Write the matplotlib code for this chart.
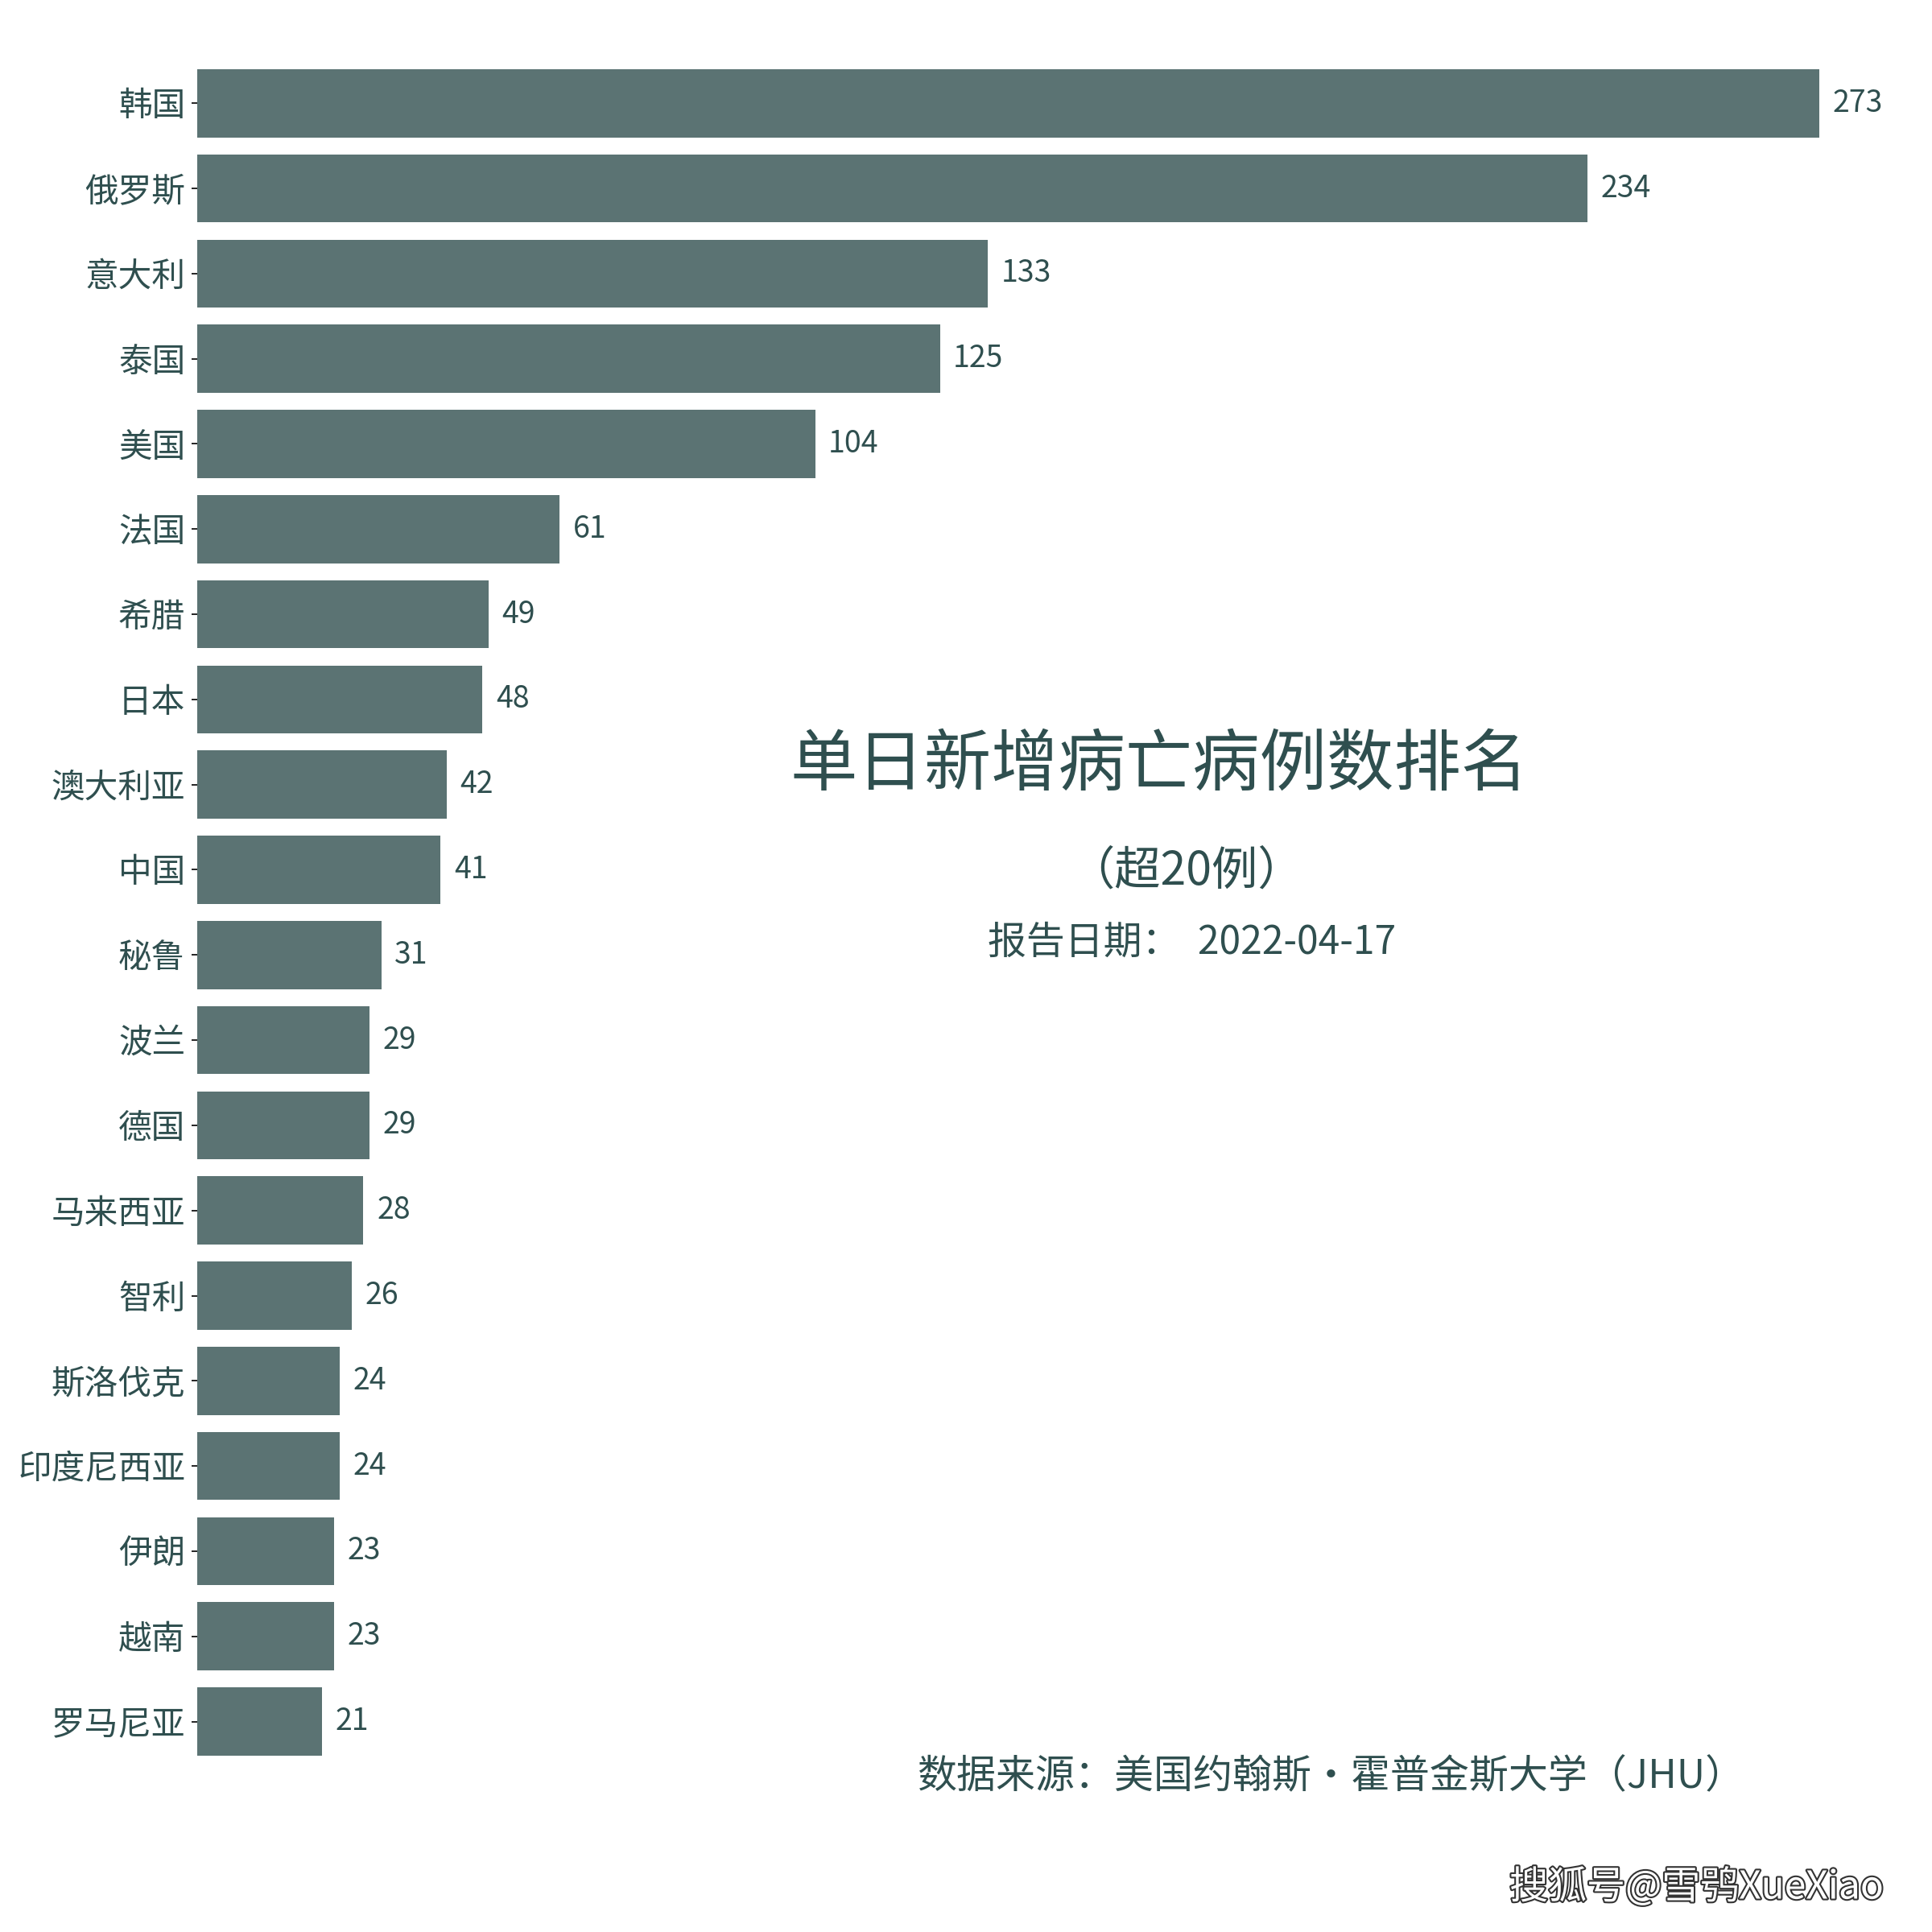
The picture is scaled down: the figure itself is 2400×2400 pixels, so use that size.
import matplotlib
matplotlib.use("Agg")
import matplotlib.pyplot as plt
import matplotlib.patheffects as pe

plt.rcParams['font.family'] = ['Noto Sans CJK SC', 'DejaVu Sans']

countries = ['韩国', '俄罗斯', '意大利', '泰国', '美国', '法国', '希腊', '日本',
             '澳大利亚', '中国', '秘鲁', '波兰', '德国', '马来西亚', '智利',
             '斯洛伐克', '印度尼西亚', '伊朗', '越南', '罗马尼亚']
deaths = [273, 234, 133, 125, 104, 61, 49, 48, 42, 41,
          31, 29, 29, 28, 26, 24, 24, 23, 23, 21]

title = '单日新增病亡病例数排名'
subtitle = '（超20例）'
date_text = '报告日期：  2022-04-17'
source = '数据来源：美国约翰斯·霍普金斯大学（JHU）'
watermark = '搜狐号@雪鸮XueXiao'

text_color = '#2F4F4F'
bar_color = '#5B7373'

fig = plt.figure(figsize=(16, 16), dpi=150)
ax = fig.add_axes([0.102, 0.0825, 0.892, 0.8905])

bars = ax.barh(range(len(countries)), deaths, height=0.8, color=bar_color)
ax.set_yticks(range(len(countries)))
ax.set_yticklabels(countries, fontsize=20, color=text_color)
ax.set_ylim(len(countries) - 0.4, -0.6)
ax.set_xlim(0, 290)
ax.bar_label(bars, labels=[str(v) for v in deaths], padding=8,
             fontsize=18, color=text_color)

for s in ax.spines.values():
    s.set_visible(False)
ax.set_xticks([])

fig.text(0.6, 0.604, title, fontsize=40, color=text_color, ha='center', va='center')
fig.text(0.614, 0.549, subtitle, fontsize=27.5, color=text_color, ha='center', va='center')
fig.text(0.617, 0.512, date_text, fontsize=23, color=text_color, ha='center', va='center')
fig.text(0.689, 0.080, source, fontsize=23.5, color=text_color, ha='center', va='center')
fig.text(0.975, 0.023, watermark, fontsize=23, color='white', ha='right', va='center',
         path_effects=[pe.withStroke(linewidth=2, foreground='#333333')])

fig.savefig('out.png', dpi=150, facecolor='white')
